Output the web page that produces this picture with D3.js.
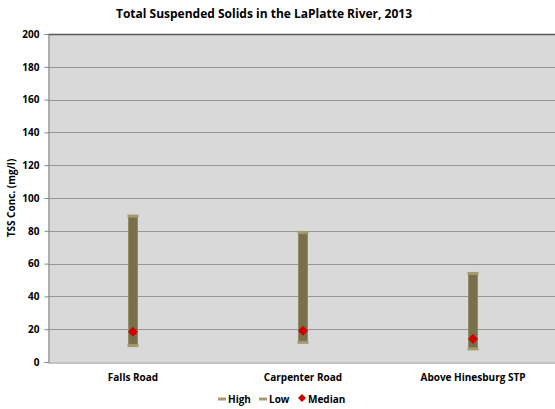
<!DOCTYPE html>
<html>
<head>
<meta charset="utf-8">
<script src="https://cdn.jsdelivr.net/npm/d3@7"></script>
<style>
  body { margin: 0; background: #fff; }
  svg { display: block; font-family: "Open Sans", "Liberation Sans", sans-serif; }
</style>
</head>
<body>
<svg id="chart" width="555" height="409"></svg>
<script>
// Sampling sites and TSS statistics (mg/l)
const sites = ["Falls Road", "Carpenter Road", "Above Hinesburg STP"];
const highValues = [89, 79, 54];
const lowValues = [10, 12, 8];
const medianValues = [18.5, 19, 14];
const yTicks = [0, 20, 40, 60, 80, 100, 120, 140, 160, 180, 200];

const data = sites.map((s, i) => ({ site: s, high: highValues[i], low: lowValues[i], median: medianValues[i] }));

const svg = d3.select("#chart");
const margin = { left: 48, top: 34, right: -3, bottom: 47 };
const W = 555, H = 409;

const x = d3.scaleBand().domain(sites).range([margin.left, W - margin.right]);
const y = d3.scaleLinear().domain([0, 200]).range([H - margin.bottom, margin.top]);

// Plot area
svg.append("rect")
  .attr("x", margin.left).attr("y", margin.top)
  .attr("width", W - margin.right - margin.left)
  .attr("height", y(0) - margin.top)
  .attr("fill", "#d9d9d9");

// Gridlines
svg.append("g").selectAll("line")
  .data(yTicks.filter(t => t > 0 && t < 200))
  .join("line")
  .attr("x1", margin.left).attr("x2", W)
  .attr("y1", d => Math.round(y(d)) + 0.5).attr("y2", d => Math.round(y(d)) + 0.5)
  .attr("stroke", "#969696").attr("stroke-width", 1);

// Top border
svg.append("line")
  .attr("x1", margin.left).attr("x2", W)
  .attr("y1", margin.top + 0.5).attr("y2", margin.top + 0.5)
  .attr("stroke", "#595959").attr("stroke-width", 1.5);

// Y axis
const yAxis = svg.append("g")
  .attr("transform", `translate(${margin.left + 0.5},0)`)
  .call(d3.axisLeft(y).tickValues(yTicks).tickSize(4).tickPadding(5));
yAxis.select(".domain").attr("stroke", "#868686");
yAxis.selectAll(".tick line").attr("stroke", "#868686");
yAxis.selectAll(".tick text")
  .attr("font-size", 10).attr("font-weight", "bold").attr("fill", "#000")
  .attr("font-family", "'Open Sans', sans-serif");

// X axis
const xAxis = svg.append("g")
  .attr("transform", `translate(0,${Math.round(y(0)) + 0.5})`)
  .call(d3.axisBottom(x).tickSize(0).tickPadding(11));
xAxis.select(".domain").attr("stroke", "#868686").attr("stroke-width", 1.2);
xAxis.selectAll(".tick text")
  .attr("font-size", 10).attr("font-weight", "bold").attr("fill", "#000")
  .attr("font-family", "'Open Sans', sans-serif");

// High-low bars
const cx = d => x(d.site) + x.bandwidth() / 2;
const g = svg.append("g");
g.selectAll("rect.bar").data(data).join("rect")
  .attr("class", "bar")
  .attr("x", d => cx(d) - 4.5)
  .attr("y", d => y(d.high))
  .attr("width", 9)
  .attr("height", d => y(d.low) - y(d.high))
  .attr("fill", "#77704a")
  .attr("stroke", "#8e8760").attr("stroke-width", 0.8);

// High and low markers (dashes)
["high", "low"].forEach(k => {
  g.selectAll("rect." + k).data(data).join("rect")
    .attr("class", k)
    .attr("x", d => cx(d) - 5.5)
    .attr("y", d => y(d[k]) - 1.5)
    .attr("width", 11).attr("height", 3)
    .attr("fill", "#a39b6e");
});

// Median markers
g.selectAll("path.median").data(data).join("path")
  .attr("class", "median")
  .attr("transform", d => `translate(${cx(d)},${y(d.median)})`)
  .attr("d", "M0,-5L5,0L0,5L-5,0Z")
  .attr("fill", "#d00000");

// Title
svg.append("text")
  .attr("x", 264).attr("y", 18)
  .attr("text-anchor", "middle")
  .attr("font-size", 12).attr("font-weight", "bold")
  .text("Total Suspended Solids in the LaPlatte River, 2013");

// Y axis title
svg.append("text")
  .attr("transform", `translate(15,${(y(0) + margin.top) / 2}) rotate(-90)`)
  .attr("text-anchor", "middle")
  .attr("font-size", 10).attr("font-weight", "bold")
  .text("TSS Conc. (mg/l)");

// Legend
const legend = svg.append("g").attr("transform", "translate(0,399)");
const items = [
  { label: "High", type: "dash", x: 218 },
  { label: "Low", type: "dash", x: 259 },
  { label: "Median", type: "diamond", x: 297 }
];
items.forEach(it => {
  if (it.type === "dash") {
    legend.append("rect").attr("x", it.x).attr("y", -1.5).attr("width", 8).attr("height", 3).attr("fill", "#a39b6e");
  } else {
    legend.append("path").attr("transform", `translate(${it.x + 5},-1)`).attr("d", "M0,-4L4,0L0,4L-4,0Z").attr("fill", "#d00000");
  }
  legend.append("text").attr("x", it.x + (it.type === "dash" ? 10 : 11)).attr("y", 3.5)
    .attr("font-size", 10).attr("font-weight", "bold").text(it.label);
});
</script>
</body>
</html>
